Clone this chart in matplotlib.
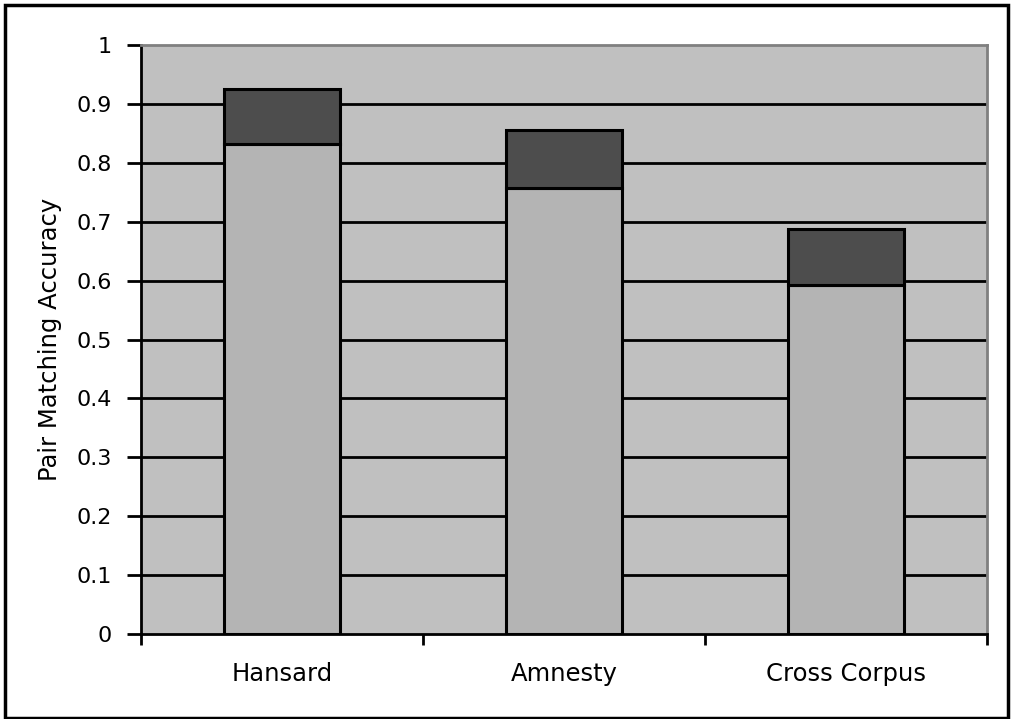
import matplotlib
matplotlib.use("Agg")
import matplotlib.pyplot as plt
from matplotlib.patches import Rectangle
import numpy as np

# Corpus accuracies: base value plus additional gain stacked on top
categories = ["Hansard", "Amnesty", "Cross Corpus"]
base_acc = [0.832, 0.757, 0.593]
gain_acc = [0.093, 0.099, 0.095]
y_ticks = [0, 0.1, 0.2, 0.3, 0.4, 0.5, 0.6, 0.7, 0.8, 0.9, 1]
y_tick_labels = ["0", "0.1", "0.2", "0.3", "0.4", "0.5", "0.6", "0.7", "0.8", "0.9", "1"]

W, H = 1015, 719
fig = plt.figure(figsize=(W / 100, H / 100), dpi=100)
fig.patch.set_facecolor("white")

ax = fig.add_axes([141 / W, 1 - 634 / H, 846 / W, 589 / H])
ax.set_facecolor("#C0C0C0")

x = np.arange(len(categories))
bw = 0.408
ax.bar(x, base_acc, width=bw, color="#B4B4B4", edgecolor="black", linewidth=2.2, zorder=3)
ax.bar(x, gain_acc, bottom=base_acc, width=bw, color="#4D4D4D", edgecolor="black",
       linewidth=2.2, zorder=3)

ax.set_xlim(-0.5, len(categories) - 0.5)
ax.set_ylim(0, 1)

# horizontal gridlines
for yv in y_ticks[1:-1]:
    ax.axhline(yv, color="black", linewidth=2.0, zorder=1)

# spines: left/bottom black, top/right grey plot-area border
for side in ["left", "bottom"]:
    ax.spines[side].set_color("black")
    ax.spines[side].set_linewidth(2.0)
for side in ["top", "right"]:
    ax.spines[side].set_color("#808080")
    ax.spines[side].set_linewidth(2.0)

ax.set_yticks(y_ticks)
ax.set_yticklabels(y_tick_labels)
ax.tick_params(axis="y", direction="out", length=10, width=2.0, pad=11, labelsize=16)

ax.set_xticks(x)
ax.set_xticklabels(categories)
ax.tick_params(axis="x", which="major", length=0, pad=20, labelsize=17.5)
ax.set_xticks(np.arange(len(categories) + 1) - 0.5, minor=True)
ax.tick_params(axis="x", which="minor", direction="out", length=8, width=2.0)

ax.set_ylabel("Pair Matching Accuracy", fontsize=17.5)
ax.yaxis.set_label_coords(-(141 - 62) / 846, 0.5)

# outer chart frame
fig.patches.append(Rectangle((4.5 / W, 1.5 / H), (1008 - 4.5) / W, (714.5 - 1.5) / H,
                             transform=fig.transFigure, fill=False,
                             edgecolor="black", linewidth=2.5))

fig.savefig("out.png", dpi=100, facecolor="white")
